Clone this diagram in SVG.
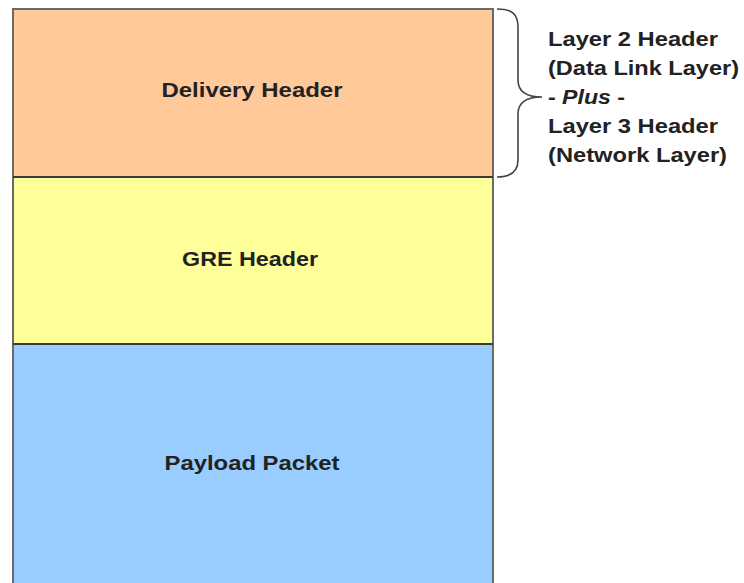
<svg xmlns="http://www.w3.org/2000/svg" width="744" height="583" viewBox="0 0 744 583">
  <style>
    .lbl { font-family: "Liberation Sans", Arial, sans-serif; font-weight: bold; font-size: 20px; fill: #222; }
    .mid { text-anchor: middle; }
    .band { stroke: #6a6a6a; stroke-width: 2; }
    .sep { stroke: #3a3a3a; stroke-width: 2; }
    .brace { fill: none; stroke: #444; stroke-width: 1.6; }
  </style>
  <rect width="744" height="583" fill="#ffffff"/>

  <g id="delivery-header">
    <rect class="band" x="13" y="9" width="480" height="168" fill="#FFC999"/>
    <text class="lbl mid" x="252" y="97" textLength="181" lengthAdjust="spacingAndGlyphs">Delivery Header</text>
  </g>

  <g id="gre-header">
    <rect class="band" x="13" y="177" width="480" height="167" fill="#FFFF99"/>
    <text class="lbl mid" x="250" y="266" textLength="136" lengthAdjust="spacingAndGlyphs">GRE Header</text>
  </g>

  <g id="payload-packet">
    <rect class="band" x="13" y="344" width="480" height="250" fill="#99CCFF"/>
    <text class="lbl mid" x="252" y="470" textLength="175" lengthAdjust="spacingAndGlyphs">Payload Packet</text>
  </g>

  <g id="connectors">
    <line class="sep" x1="13" y1="177" x2="493" y2="177"/>
    <line class="sep" x1="13" y1="344" x2="493" y2="344"/>
    <path class="brace" d="M497,9 C512,9 518,14 518,27 L518,80 C518,92 526,97 542,97 C526,97 518,102 518,114 L518,160 C518,171 512,177 497,177"/>
  </g>

  <g id="brace-note">
    <text class="lbl" x="548" y="46" textLength="170" lengthAdjust="spacingAndGlyphs">Layer 2 Header</text>
    <text class="lbl" x="548" y="75" textLength="191" lengthAdjust="spacingAndGlyphs">(Data Link Layer)</text>
    <text class="lbl" x="548" y="104" textLength="77" lengthAdjust="spacingAndGlyphs">- <tspan font-style="italic">Plus</tspan> -</text>
    <text class="lbl" x="548" y="133" textLength="170" lengthAdjust="spacingAndGlyphs">Layer 3 Header</text>
    <text class="lbl" x="548" y="162" textLength="179" lengthAdjust="spacingAndGlyphs">(Network Layer)</text>
  </g>
</svg>
